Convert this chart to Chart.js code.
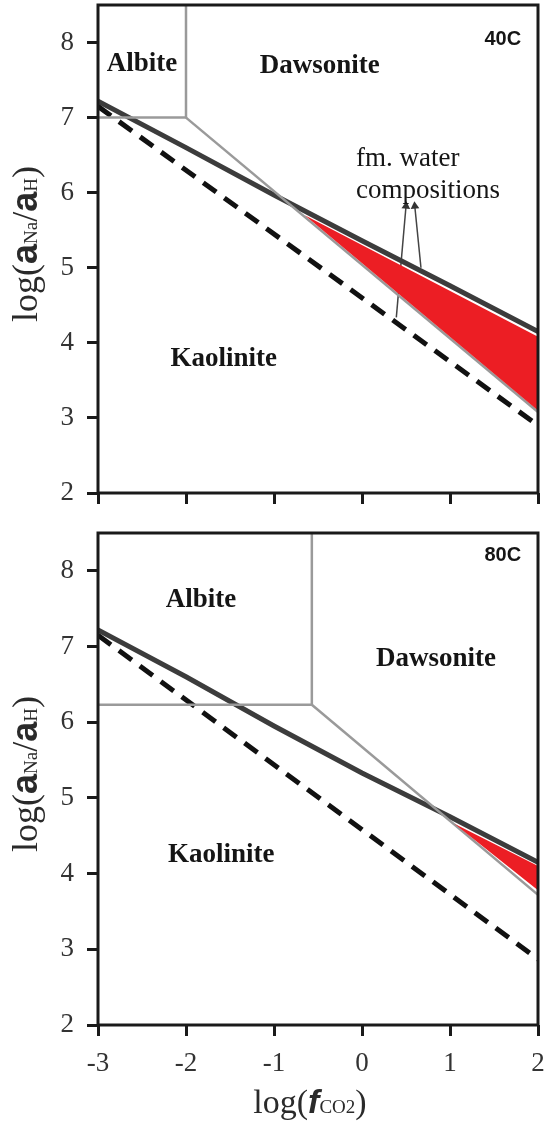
<!DOCTYPE html>
<html>
<head>
<meta charset="utf-8">
<script src="https://cdn.jsdelivr.net/npm/chart.js@4.4.1/dist/chart.umd.min.js"></script>
<style>
  html, body { margin: 0; padding: 0; background: #fff; overflow: hidden; }
  .panel { position: relative; width: 549px; }
  #wrap40 { height: 520px; }
  #wrap80 { height: 604px; }
</style>
</head>
<body>
<div class="panel" id="wrap40"><canvas id="chart40"></canvas></div>
<div class="panel" id="wrap80"><canvas id="chart80"></canvas></div>
<script>
// axis ticks
const xTicks = [-3, -2, -1, 0, 1, 2];
const yTicks = [2, 3, 4, 5, 6, 7, 8];

// 40C panel
const dark40X = [-3, -2, -1, 0, 1, 2];
const dark40Y = [7.22, 6.6, 5.97, 5.36, 4.76, 4.15];
const dash40X = [-3, 2];
const dash40Y = [7.15, 2.9];
const albiteBox40X = [-3, -2, -2];
const albiteBox40Y = [7, 7, 8.5];
const grayDiag40X = [-2, 2];
const grayDiag40Y = [7, 3.08];
const red40X = [-0.65, 2, 2, -0.65];
const red40Y = [5.7, 4.08, 3.1, 5.7];
const arrowA40X = [0.5, 0.39];
const arrowA40Y = [5.82, 4.34];
const arrowB40X = [0.6, 0.67];
const arrowB40Y = [5.82, 5.0];

// 80C panel
const dark80X = [-3, -2, -1, 0, 1, 2];
const dark80Y = [7.22, 6.6, 5.95, 5.33, 4.75, 4.15];
const dash80X = [-3, 2];
const dash80Y = [7.15, 2.87];
const albiteBox80X = [-3, -0.57, -0.57];
const albiteBox80Y = [6.23, 6.23, 8.5];
const grayDiag80X = [-0.57, 2];
const grayDiag80Y = [6.23, 3.72];
const red80X = [1.05, 2, 2, 1.05];
const red80Y = [4.66, 4.1, 3.78, 4.66];

// region labels
const labels40 = [
  { text: "Albite", x: -2.5, y: 7.71, font: "bold 27px 'Liberation Serif'" },
  { text: "Dawsonite", x: -0.48, y: 7.69, font: "bold 27px 'Liberation Serif'" },
  { text: "Kaolinite", x: -1.57, y: 3.78, font: "bold 27px 'Liberation Serif'" },
  { text: "40C", x: 1.6, y: 8.04, font: "bold 20px 'Liberation Sans'" },
  { text: "fm. water", x: 0.52, y: 6.45, font: "27px 'Liberation Serif'" },
  { text: "compositions", x: 0.75, y: 6.02, font: "27px 'Liberation Serif'" }
];
const labels80 = [
  { text: "Albite", x: -1.83, y: 7.61, font: "bold 27px 'Liberation Serif'" },
  { text: "Dawsonite", x: 0.84, y: 6.84, font: "bold 27px 'Liberation Serif'" },
  { text: "Kaolinite", x: -1.6, y: 4.24, font: "bold 27px 'Liberation Serif'" },
  { text: "80C", x: 1.6, y: 8.2, font: "bold 20px 'Liberation Sans'" }
];

const pts = (xs, ys) => xs.map((x, i) => ({ x: x, y: ys[i] }));

function lineSet(xs, ys, color, width, dash) {
  return {
    data: pts(xs, ys), showLine: true, borderColor: color, borderWidth: width,
    borderDash: dash || [], pointRadius: 0, fill: false, tension: 0
  };
}

function arrowSet(xs, ys, rot) {
  return {
    data: pts(xs, ys), showLine: true, borderColor: '#444', borderWidth: 1.5,
    pointRadius: [5, 0], pointStyle: 'triangle', rotation: rot,
    pointBackgroundColor: '#333', pointBorderColor: '#333', pointBorderWidth: 0, fill: false
  };
}

function drawRuns(ctx, runs, cx, cy, rotate) {
  ctx.save();
  ctx.translate(cx, cy);
  if (rotate) ctx.rotate(-Math.PI / 2);
  ctx.textBaseline = 'alphabetic';
  ctx.textAlign = 'left';
  let total = 0;
  runs.forEach(r => { ctx.font = r.font; total += ctx.measureText(r.t).width; });
  let pos = -total / 2;
  runs.forEach(r => {
    ctx.font = r.font;
    ctx.fillStyle = '#2a2a2a';
    ctx.fillText(r.t, pos, 0);
    pos += ctx.measureText(r.t).width;
  });
  ctx.restore();
}

const yTitleRuns = [
  { t: "log(", font: "36px 'Liberation Serif'" },
  { t: "a", font: "bold 36px 'Liberation Sans'" },
  { t: "Na", font: "19px 'Liberation Serif'" },
  { t: "/", font: "36px 'Liberation Serif'" },
  { t: "a", font: "bold 36px 'Liberation Sans'" },
  { t: "H", font: "19px 'Liberation Serif'" },
  { t: ")", font: "36px 'Liberation Serif'" }
];
const xTitleRuns = [
  { t: "log(", font: "34px 'Liberation Serif'" },
  { t: "f", font: "italic bold 34px 'Liberation Sans'" },
  { t: "CO2", font: "19px 'Liberation Serif'" },
  { t: ")", font: "34px 'Liberation Serif'" }
];

function makePanel(id, datasets, regionLabels, padTop, xHeight, showXLabels) {
  const decor = {
    id: 'decor' + id,
    afterDatasetsDraw(chart) {
      const ctx = chart.ctx;
      const a = chart.chartArea;
      const xs = chart.scales.x, ys = chart.scales.y;
      ctx.save();
      ctx.strokeStyle = '#1a1a1a';
      ctx.lineWidth = 3;
      ctx.strokeRect(a.left, a.top, a.right - a.left, a.bottom - a.top);
      ctx.textAlign = 'center';
      ctx.textBaseline = 'middle';
      regionLabels.forEach(l => {
        ctx.font = l.font;
        ctx.fillStyle = '#151515';
        ctx.fillText(l.text, xs.getPixelForValue(l.x), ys.getPixelForValue(l.y));
      });
      ctx.restore();
      drawRuns(ctx, yTitleRuns, 37, (a.top + a.bottom) / 2 - 5, true);
      if (showXLabels) drawRuns(ctx, xTitleRuns, (a.left + a.right) / 2 - 8, a.bottom + 88, false);
    }
  };

  return new Chart(document.getElementById(id), {
    type: 'scatter',
    data: { datasets: datasets },
    options: {
      responsive: true,
      maintainAspectRatio: false,
      animation: false,
      layout: { padding: { top: padTop, right: 11, left: 0, bottom: 0 } },
      plugins: { legend: { display: false }, tooltip: { enabled: false } },
      scales: {
        x: {
          type: 'linear', min: -3, max: 2,
          afterBuildTicks: s => { s.ticks = xTicks.map(v => ({ value: v })); },
          afterFit: s => { s.height = xHeight; s.paddingLeft = 0; s.paddingRight = 0; },
          grid: { display: true, drawOnChartArea: false, drawTicks: true, tickLength: 11, tickWidth: 3, tickColor: '#1a1a1a' },
          border: { display: false },
          ticks: {
            display: showXLabels, padding: 12, color: '#333',
            font: { family: 'Liberation Serif', size: 27 },
            callback: v => String(v)
          }
        },
        y: {
          type: 'linear', min: 2, max: 8.5,
          afterBuildTicks: s => { s.ticks = yTicks.map(v => ({ value: v })); },
          afterFit: s => { s.width = 98; s.paddingTop = 0; s.paddingBottom = 0; },
          grid: { display: true, drawOnChartArea: false, drawTicks: true, tickLength: 11, tickWidth: 3, tickColor: '#1a1a1a' },
          border: { display: false },
          ticks: {
            padding: 13, color: '#333',
            font: { family: 'Liberation Serif', size: 27 },
            callback: v => String(v)
          }
        }
      }
    },
    plugins: [decor]
  });
}

const redFill = 'rgb(236, 30, 36)';

makePanel('chart40', [
  { data: pts(red40X, red40Y), showLine: true, borderWidth: 0, pointRadius: 0, backgroundColor: redFill, fill: 'shape' },
  lineSet(albiteBox40X, albiteBox40Y, '#9a9a9a', 2.5),
  lineSet(grayDiag40X, grayDiag40Y, '#9a9a9a', 2.5),
  lineSet(dash40X, dash40Y, '#111', 5, [16, 10]),
  lineSet(dark40X, dark40Y, '#3c3c3c', 5),
  arrowSet(arrowA40X, arrowA40Y, 5),
  arrowSet(arrowB40X, arrowB40Y, -5)
], labels40, 3, 27, false);

makePanel('chart80', [
  { data: pts(red80X, red80Y), showLine: true, borderWidth: 0, pointRadius: 0, backgroundColor: redFill, fill: 'shape' },
  lineSet(albiteBox80X, albiteBox80Y, '#9a9a9a', 2.5),
  lineSet(grayDiag80X, grayDiag80Y, '#9a9a9a', 2.5),
  lineSet(dash80X, dash80Y, '#111', 5, [16, 10]),
  lineSet(dark80X, dark80Y, '#3c3c3c', 5)
], labels80, 13, 99, true);
</script>
</body>
</html>
